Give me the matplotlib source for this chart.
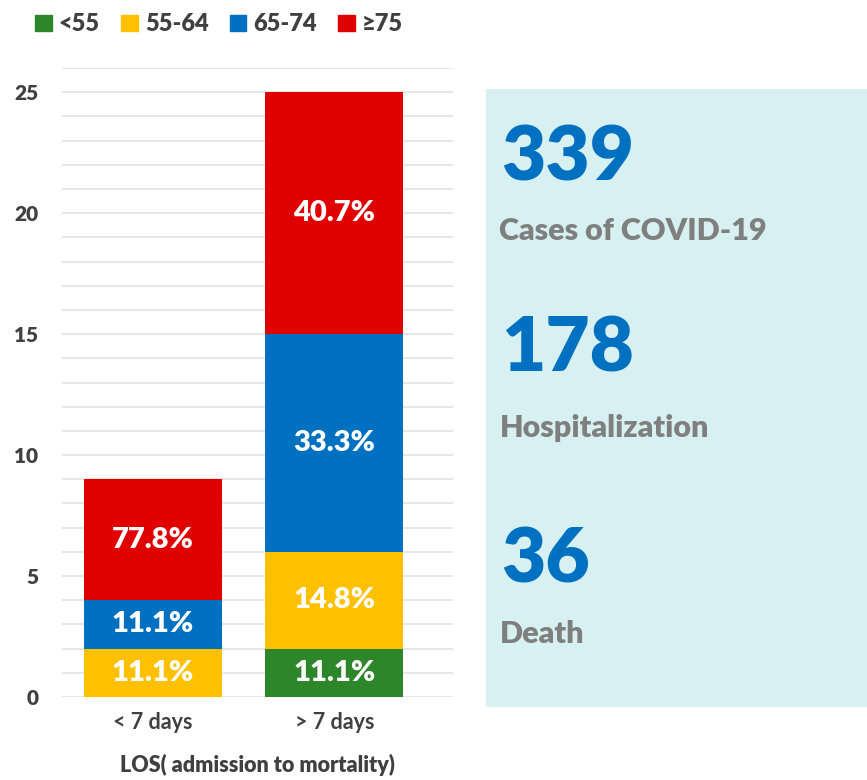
import numpy as np
import matplotlib.pyplot as plt
from matplotlib.patches import Rectangle, Patch

plt.rcParams['font.family'] = ['Lato', 'DejaVu Sans']

groups = ["< 7 days", "> 7 days"]
ages = ["<55", "55-64", "65-74", "≥75"]
colors = ["#2E862B", "#FFC000", "#0070C0", "#E00000"]

# counts per age group for each LOS group
lt7 = [0, 2, 2, 5]
gt7 = [2, 4, 9, 10]
lt7_lbl = ["", "11.1%", "11.1%", "77.8%"]
gt7_lbl = ["11.1%", "14.8%", "33.3%", "40.7%"]

stats_num = ["339", "178", "36"]
stats_txt = ["Cases of COVID-19", "Hospitalization", "Death"]

fig = plt.figure(figsize=(8.67, 7.8), dpi=100)
ax = fig.add_axes([0.0715, 0.1064, 0.451, 0.8064])

x = np.arange(len(groups))
bottom = np.zeros(len(groups))
for i, age in enumerate(ages):
    vals = np.array([lt7[i], gt7[i]])
    bars = ax.bar(x, vals, 0.76, bottom=bottom, color=colors[i], zorder=3)
    labs = [lt7_lbl[i], gt7_lbl[i]]
    ax.bar_label(bars, labels=labs, label_type="center", color="white",
                 fontsize=21, fontweight="heavy")
    bottom += vals

ax.set_xlim(-0.501, 1.653)
ax.set_ylim(0, 26)
ax.set_yticks(range(0, 26, 5))
ax.set_yticks(range(0, 27), minor=True)
ax.grid(axis="y", which="both", color="#E3E3E3", lw=1.2, zorder=0)
ax.tick_params(which="both", length=0)
ax.tick_params(axis="y", labelsize=15, labelcolor="#404040", pad=17)
ax.tick_params(axis="x", labelsize=15.5, labelcolor="#404040", pad=11)
for t in ax.get_yticklabels():
    t.set_fontweight("heavy")
for t in ax.get_xticklabels():
    t.set_fontweight("bold")
ax.set_xticks(x)
ax.set_xticklabels(groups)
ax.set_xlabel("LOS( admission to mortality)", fontsize=15.5, color="#404040",
              fontweight="heavy", labelpad=15)
for s in ax.spines.values():
    s.set_visible(False)

handles = [Patch(color=c, label=a) for a, c in zip(ages, colors)]
fig.legend(handles=handles, loc="upper left", bbox_to_anchor=(0.016, 1.01), ncol=4,
           frameon=False, handlelength=0.7, handleheight=0.7, handletextpad=0.3,
           columnspacing=0.9, prop={"size": 17, "weight": "heavy"}, labelcolor="#404040")

fig.patches.append(Rectangle((0.5606, 0.0936), 0.4394, 0.7923, transform=fig.transFigure,
                             facecolor="#D7F0F1", edgecolor="none", zorder=0))

num_y = [0.769, 0.524, 0.2526]
txt_y = [0.692, 0.440, 0.176]
for n, t, ny, ty in zip(stats_num, stats_txt, num_y, txt_y):
    fig.text(0.578, ny, n, fontsize=55, fontweight="heavy", color="#0070C0", va="baseline")
    fig.text(0.576, ty, t, fontsize=22, fontweight="heavy", color="#7F7F7F", va="baseline")

fig.savefig("out.png", dpi=100)
